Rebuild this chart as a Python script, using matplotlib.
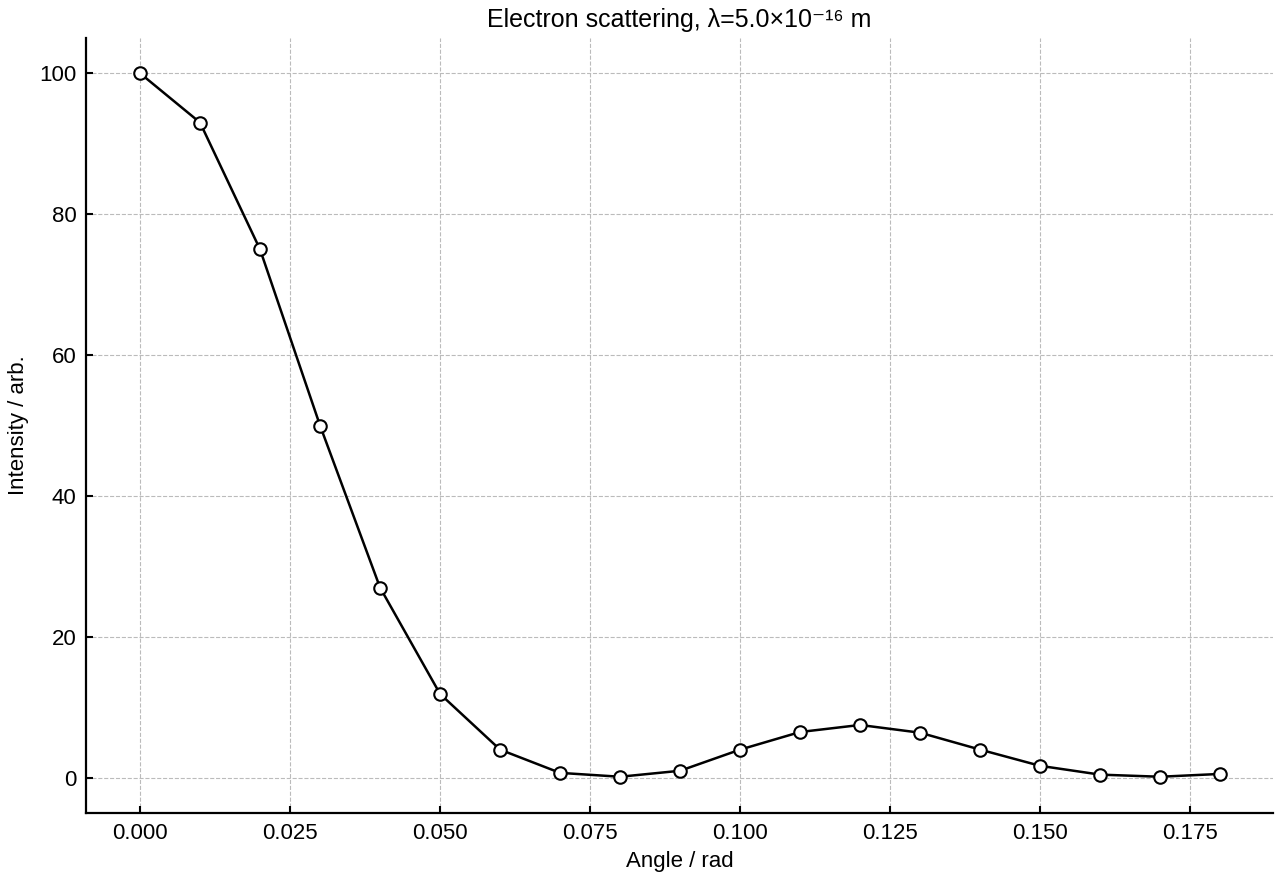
import matplotlib
matplotlib.use("Agg")
import matplotlib.pyplot as plt

angle = [0.00, 0.01, 0.02, 0.03, 0.04, 0.05, 0.06, 0.07, 0.08, 0.09,
         0.10, 0.11, 0.12, 0.13, 0.14, 0.15, 0.16, 0.17, 0.18]
intensity = [100.0, 93.0, 75.0, 50.0, 27.0, 11.9, 4.0, 0.7, 0.15, 1.0,
             4.0, 6.5, 7.5, 6.4, 4.0, 1.7, 0.45, 0.15, 0.55]
x_ticks = [0.000, 0.025, 0.050, 0.075, 0.100, 0.125, 0.150, 0.175]
y_ticks = [0, 20, 40, 60, 80, 100]

plt.rcParams['font.family'] = ['Liberation Sans', 'DejaVu Sans']

fig = plt.figure(figsize=(12.8, 8.8), dpi=100)
ax = fig.add_axes([0.0672, 0.0761, 0.9273, 0.8807])

ax.plot(angle, intensity, color='black', linewidth=1.8, marker='o',
        markersize=9, markerfacecolor='white', markeredgecolor='black',
        markeredgewidth=1.5, zorder=3)

ax.set_xlim(-0.009, 0.1888)
ax.set_ylim(-5, 105)
ax.set_xticks(x_ticks)
ax.set_xticklabels([f'{t:.3f}' for t in x_ticks])
ax.set_yticks(y_ticks)

ax.grid(True, linestyle='--', color='#bbbbbb', linewidth=0.8)
ax.set_axisbelow(True)

for side in ['top', 'right']:
    ax.spines[side].set_visible(False)
for side in ['left', 'bottom']:
    ax.spines[side].set_linewidth(1.6)

ax.tick_params(direction='in', length=5, width=1.5, labelsize=16, pad=7)

ax.set_xlabel('Angle / rad', fontsize=16, labelpad=5)
ax.set_ylabel('Intensity / arb.', fontsize=16, labelpad=7)
ax.set_title('Electron scattering, λ=5.0×10⁻¹⁶ m', fontsize=18, pad=8)

fig.savefig('out.png', dpi=100)
